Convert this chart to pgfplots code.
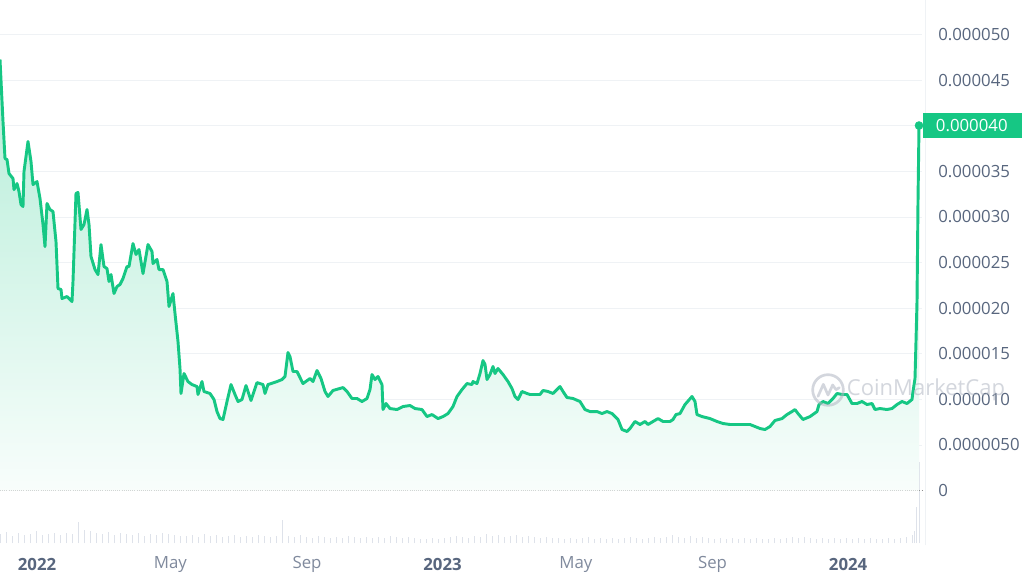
\documentclass[border=0pt]{standalone}
\usepackage{pgfplots}
\pgfplotsset{compat=1.18}
\usepackage{pgfplotstable}
\usepackage{fontspec}
\setmainfont{Open Sans}
\definecolor{cmcgreen}{RGB}{22,199,132}
\definecolor{ticklab}{RGB}{88,102,126}
\definecolor{monthc}{RGB}{128,138,157}
\definecolor{gridc}{RGB}{239,242,245}
\definecolor{volc}{RGB}{222,226,234}
\definecolor{wmark}{RGB}{176,182,194}

% price, x = days since 2022-01-01, v = price in units of 1e-6
\pgfplotstableread{
d v
-33.3 47.26
-30.6 40.46
-28.8 36.40
-27.0 36.29
-25.2 34.76
-21.6 34.21
-20.7 33.00
-18.0 33.66
-16.2 32.79
-14.4 31.36
-12.6 31.14
-11.7 34.98
-8.1 38.27
-5.4 36.07
-3.6 33.55
0 33.88
2.7 32.02
5.4 29.17
7.2 26.75
9.0 31.47
11.7 30.81
14.4 30.59
17.1 27.30
18.9 22.15
21.6 22.04
22.5 21.05
27.0 21.27
28.8 21.05
31.5 20.72
32.4 22.92
35.1 32.57
36.9 32.68
39.6 28.62
42.3 29.17
45.0 30.81
46.8 29.17
48.6 25.66
52.2 24.23
54.9 23.68
57.6 26.97
60.3 24.56
63.0 24.34
64.8 22.92
66.6 23.68
69.3 21.60
72.0 22.37
74.7 22.59
77.4 23.25
81.0 24.56
82.8 24.56
86.4 27.08
89.1 25.88
91.8 26.43
95.4 23.79
99.9 26.97
103.5 26.21
104.4 24.89
108.0 25.33
109.8 24.23
113.4 24.23
117.0 22.92
118.8 20.18
122.4 21.60
124.2 19.41
126.9 16.34
128.7 13.38
129.6 10.64
132.3 12.83
135.9 11.95
139.5 11.62
144.0 11.40
144.9 10.53
148.5 11.95
150.3 10.86
155.7 10.64
159.3 9.98
162.0 8.66
164.7 7.89
167.4 7.79
171.0 9.76
174.6 11.62
178.2 10.53
180.9 9.76
184.5 9.98
188.1 11.51
192.6 9.87
198.0 11.84
203.4 11.62
205.2 10.64
207.9 11.62
216.0 11.95
220.5 12.17
223.2 12.50
225.9 15.13
227.7 14.69
230.4 13.05
234.0 13.05
239.4 11.73
245.7 12.28
248.4 11.95
252.0 13.16
255.6 12.28
259.2 10.86
261.9 10.31
266.4 10.97
275.4 11.29
279.0 10.86
283.5 10.09
288.0 10.09
292.5 9.76
297.0 10.09
299.7 11.07
301.5 12.72
304.2 12.17
306.9 12.50
310.5 11.62
311.4 8.88
314.1 9.54
317.7 8.99
324.0 8.88
329.4 9.21
335.7 9.32
340.2 8.99
346.5 8.88
351.0 8.11
355.5 8.33
360.9 7.89
365.4 8.11
369.9 8.44
374.4 9.21
378.0 10.31
382.5 11.07
387.0 11.73
391.5 11.62
392.4 11.95
396.0 11.73
398.7 12.83
401.4 14.25
403.2 13.82
405.0 12.17
407.7 12.72
410.4 13.60
412.2 12.83
414.9 13.38
419.4 12.72
423.9 11.95
427.5 11.18
430.2 10.31
432.9 9.98
436.5 10.86
441.0 10.64
443.7 10.53
452.7 10.53
455.4 10.97
459.9 10.86
464.4 10.64
470.7 11.40
473.4 10.86
477.0 10.20
482.4 10.09
488.7 9.76
493.2 8.88
497.7 8.66
504.0 8.66
508.5 8.44
513.0 8.66
517.5 8.44
520.2 8.11
522.9 7.79
526.5 6.69
531.0 6.47
533.7 6.80
538.2 7.57
542.7 7.24
547.2 7.57
549.9 7.24
554.4 7.57
558.9 7.89
563.4 7.57
569.7 7.57
572.4 7.79
575.1 8.33
578.7 8.44
583.2 9.43
589.5 10.31
592.2 9.76
594.0 8.33
598.5 8.11
605.7 7.89
612.0 7.57
617.4 7.35
623.7 7.24
630.0 7.24
635.4 7.24
641.7 7.24
646.2 7.02
650.7 6.80
655.2 6.69
659.7 7.02
664.2 7.68
670.5 7.89
675.0 8.33
679.5 8.66
682.2 8.88
684.9 8.44
689.4 7.79
695.7 8.11
702.0 8.66
703.8 9.43
707.4 9.76
711.9 9.54
716.4 10.09
720.0 10.64
724.5 10.53
729.0 10.53
733.5 9.54
738.0 9.54
742.5 9.76
747.0 9.43
751.5 9.54
754.2 8.88
758.7 8.99
765.0 8.88
769.5 8.99
774.0 9.43
778.5 9.76
783.0 9.54
787.5 9.98
788.4 10.86
790.2 12.28
791.1 16.34
792.0 20.72
792.9 31.69
793.8 40.02
}\pricetable

% volume (relative units), one value per period
\pgfplotstableread{
i h
0 9
1 11
2 7
3 10
4 8
5 9
6 12
7 8
8 9
9 10
10 8
11 10
12 9
13 21
14 13
15 12
16 10
17 9
18 11
19 8
20 10
21 9
22 8
23 10
24 7
25 9
26 8
27 10
28 9
29 8
30 7
31 7
32 8
33 6
34 9
35 7
36 8
37 6
38 7
39 8
40 6
41 7
42 6
43 8
44 7
45 6
46 7
47 23
48 7
49 6
50 8
51 6
52 5
53 7
54 6
55 5
56 6
57 5
58 7
59 6
60 5
61 6
62 5
63 6
64 5
65 7
66 6
67 5
68 6
69 5
70 4
71 4
72 5
73 4
74 5
75 6
76 7
77 6
78 5
79 7
80 6
81 9
82 7
83 8
84 6
85 7
86 8
87 6
88 7
89 6
90 5
91 6
92 5
93 5
94 4
95 5
96 4
97 5
98 6
99 4
100 5
101 4
102 5
103 4
104 5
105 6
106 5
107 4
108 5
109 6
110 5
111 6
112 8
113 6
114 5
115 7
116 5
117 6
118 5
119 4
120 5
121 4
122 5
123 4
124 5
125 4
126 5
127 4
128 4
129 5
130 4
131 5
132 6
133 5
134 6
135 5
136 4
137 5
138 4
139 5
140 4
141 5
142 4
143 5
144 4
145 5
146 4
147 4
148 5
149 4
150 5
151 6
152 8
152.4 12
152.8 36
153.3 81
}\voltable

\begin{document}
\begin{tikzpicture}[x=1pt,y=1pt]
\fill[white] (0,0) rectangle (768,437.25);
% volume
\begin{axis}[
  at={(0,40)}, anchor=south west,
  scale only axis, width=691.5pt, height=408.75pt,
  xmin=0, xmax=153.67, ymin=0, ymax=545,
  hide axis, clip=false]
\addplot[ycomb, color=volc, line width=0.5pt, mark=none] table[x=i, y=h] {\voltable};
\end{axis}
% separator
\draw[gridc, line width=0.6pt] (693.75,28.5) -- (693.75,437.25);
% price
\begin{axis}[
  at={(0,40)}, anchor=south west,
  scale only axis, width=691.5pt, height=408.75pt,
  xmin=-33.3, xmax=796.5, ymin=-6.14, ymax=53.62,
  clip=false,
  axis line style={draw=none},
  major tick length=0pt,
  ytick={5,10,...,50},
  yticklabels={0.0000050,0.000010,0.000015,0.000020,0.000025,0.000030,0.000035,,0.000045,0.000050},
  extra y ticks={0},
  extra y tick labels={0},
  extra y tick style={grid style={densely dotted, color=black!45, line width=0.5pt}},
  ymajorgrids,
  grid style={gridc, line width=0.6pt},
  yticklabel pos=right,
  yticklabel style={anchor=west, inner sep=0pt, xshift=12pt},
  xtick={0,120,243,365,485,608,730},
  xticklabels={\textbf{2022},{\color{monthc}May},{\color{monthc}Sep},\textbf{2023},{\color{monthc}May},{\color{monthc}Sep},\textbf{2024}},
  xticklabel style={anchor=center, inner sep=0pt, yshift=-13.5pt},
  tick label style={font=\fontsize{12.6}{15}\selectfont, color=ticklab},
]
\addplot[draw=none, top color=cmcgreen!32!white, bottom color=cmcgreen!3!white] table[x=d, y=v] {\pricetable} \closedcycle;
\addplot[cmcgreen, line width=2.2pt, line join=round, mark=none] table[x=d, y=v] {\pricetable};
\addplot[only marks, mark=*, mark size=3pt, color=cmcgreen] coordinates {(793.8,40.02)};
\node[anchor=west, fill=cmcgreen, text=white, font=\fontsize{12.6}{15}\selectfont,
      inner xsep=9.75pt, inner ysep=0pt, text width=54.75pt, align=left,
      minimum height=18.75pt, xshift=0.5pt] at (axis cs:796.5,40.02) {0.000040};
\end{axis}
% watermark
\begin{scope}[opacity=0.55, wmark]
\draw[line width=2pt] (621,144.75) circle (11.5pt);
\draw[line width=2pt, line join=round, line cap=round] (613.5,140) -- (617.5,149) -- (621,141) -- (624.5,148.5) -- (627,145) -- (629.5,146.5);
\node[anchor=west, inner sep=0pt, font=\fontsize{16.5}{18}\selectfont] at (635,144.75) {CoinMarketCap};
\end{scope}
\pgfresetboundingbox
\useasboundingbox (0,0) rectangle (768,437.25);
\end{tikzpicture}
\end{document}
